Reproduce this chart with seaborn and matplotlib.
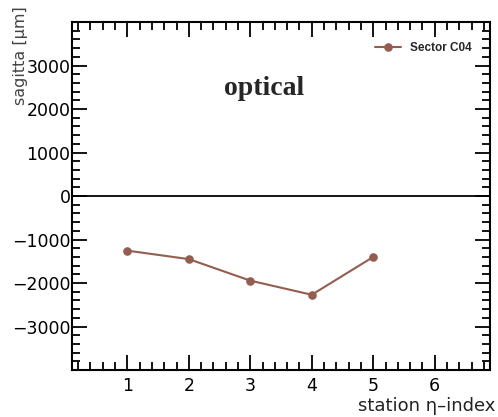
import matplotlib
matplotlib.use("Agg")
import matplotlib.pyplot as plt
import seaborn as sns
import pandas as pd
from matplotlib.ticker import MultipleLocator

stations = [1, 2, 3, 4, 5]
sagitta = [-1255, -1450, -1945, -2270, -1400]
series_name = "Sector C04"

df = pd.DataFrame({"station": stations, "sagitta": sagitta, "series": series_name})

sns.set_style("ticks")
plt.rcParams['font.family'] = ['DejaVu Sans']

fig = plt.figure(figsize=(4.98, 4.17), dpi=100)
ax = fig.add_axes([0.1446, 0.1127, 0.8394, 0.8343])

color = "#935e50"
sns.lineplot(data=df, x="station", y="sagitta", hue="series", palette=[color],
             marker="o", markersize=6.2, markeredgewidth=0, linewidth=1.5, ax=ax)

ax.axhline(0, color="black", linewidth=1.3)

ax.set_xlim(0.1, 6.9)
ax.set_ylim(-4000, 4000)
ax.xaxis.set_minor_locator(MultipleLocator(0.2))
ax.yaxis.set_minor_locator(MultipleLocator(200))
ax.set_xticks([1, 2, 3, 4, 5, 6])
ax.set_yticks([-3000, -2000, -1000, 0, 1000, 2000, 3000])

ax.tick_params(which="both", direction="in", top=True, right=True, width=1.3,
               labelsize=12.5, colors="black")
ax.tick_params(which="major", length=11)
ax.tick_params(which="minor", length=5.5)
ax.tick_params(axis="x", pad=5)
ax.tick_params(axis="y", pad=1)
for s in ax.spines.values():
    s.set_linewidth(1.5)
    s.set_color("black")

ax.set_xlabel("")
ax.set_ylabel("")
fig.text(0.994, 0.014, "station η–index", ha="right", va="baseline",
         fontsize=13, color="#222222")
fig.text(0.042, 0.866, "sagitta [μm]", rotation=90, ha="center", va="center",
         fontsize=11.5, color="#444444")

ax.text(0.364, 0.79, "optical", transform=ax.transAxes, fontsize=20,
        fontweight="bold", family=["Liberation Serif", "DejaVu Serif"])

leg = ax.legend(loc="center left", bbox_to_anchor=(0.725, 0.925), frameon=False,
                handlelength=2.2, handletextpad=0.8,
                borderpad=0, borderaxespad=0,
                prop={"family": ["Liberation Sans"], "weight": "bold", "size": 8.5})

fig.savefig("out.png", dpi=100)
